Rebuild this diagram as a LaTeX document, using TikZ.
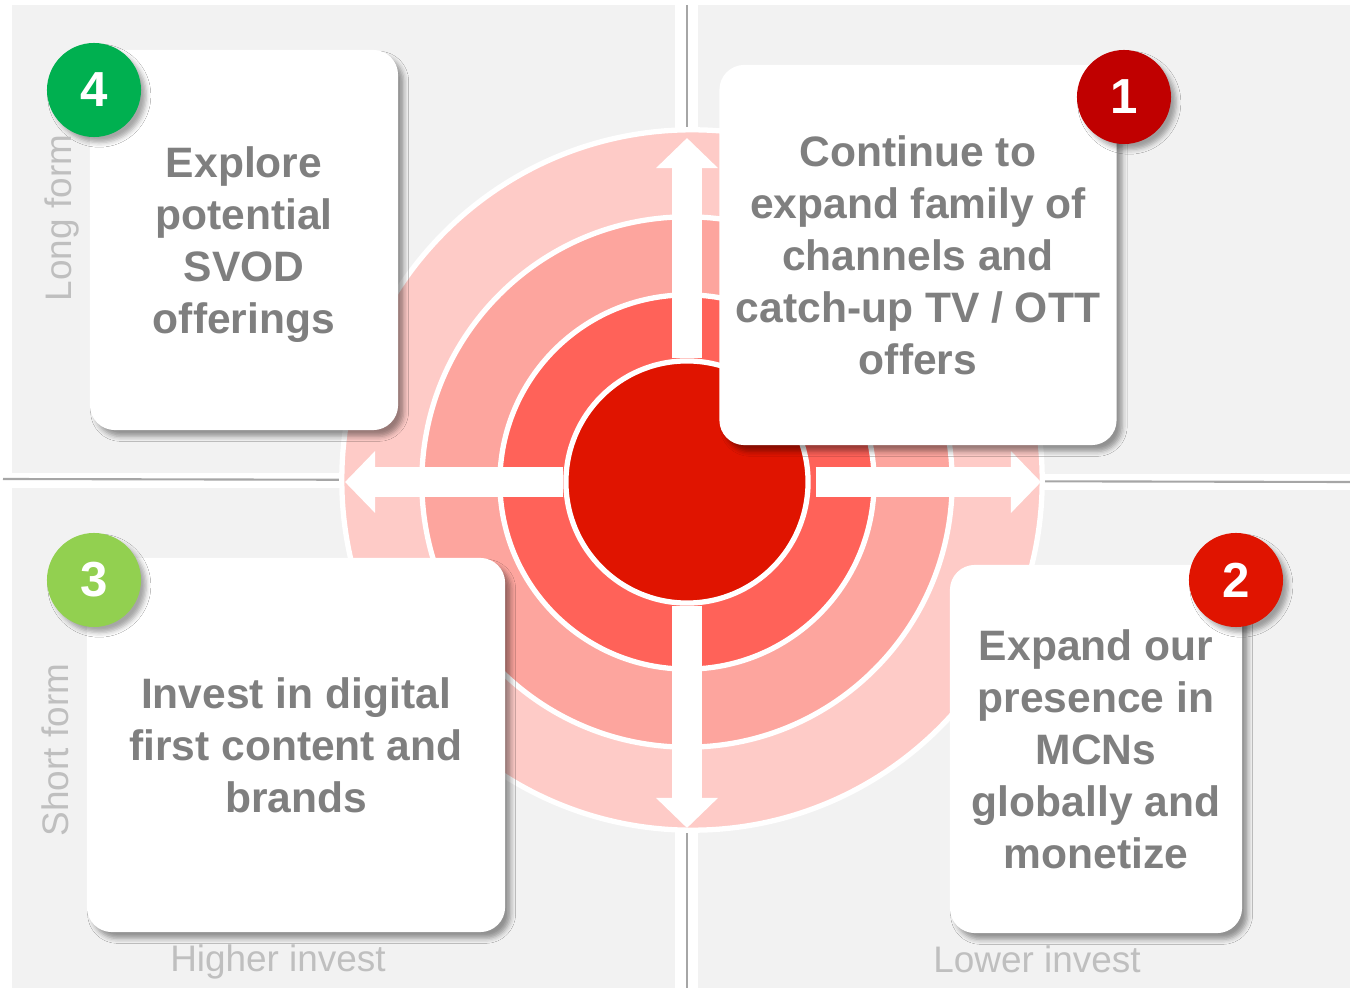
\documentclass[tikz,border=0pt]{standalone}
\usepackage{fontspec}
\setmainfont{Liberation Sans}
\usetikzlibrary{arrows.meta,shadows.blur}
\definecolor{bggrey}{HTML}{F2F2F2}
\definecolor{sepgrey}{HTML}{A6A6A6}
\definecolor{txtgrey}{HTML}{7F7F7F}
\definecolor{axgrey}{HTML}{BFBFBF}
\definecolor{ringA}{HTML}{FECBC7}
\definecolor{ringB}{HTML}{FDA59E}
\definecolor{ringC}{HTML}{FF6259}
\definecolor{bullred}{HTML}{E01400}
\definecolor{darkred}{HTML}{C00000}
\definecolor{green}{HTML}{00B050}
\definecolor{lightgreen}{HTML}{92D050}

\begin{document}
\begin{tikzpicture}[x=0.01cm, y=-0.01cm,
  quad/.style={fill=bggrey},
  ring/.style={circle, draw=white, line width=1.5pt, inner sep=0pt},
  fat/.style={white, line width=3mm, -{Triangle[width=6mm, length=3mm]}},
  card/.style={fill=white, rounded corners=2.5mm, inner sep=0pt, align=center,
    text=txtgrey, text depth=0pt, font=\bfseries\fontsize{12.1}{14.8}\selectfont,
    blur shadow={shadow xshift=1.6pt, shadow yshift=-1.8pt, shadow blur radius=1.4pt, shadow opacity=40}},
  badge/.style={circle, minimum size=9.4mm, inner sep=0pt, text=white,
    font=\bfseries\fontsize{14}{14}\selectfont,
    blur shadow={shadow xshift=1.5pt, shadow yshift=-1.6pt, shadow blur radius=1.3pt, shadow opacity=35}},
  axis/.style={text=axgrey, inner sep=0pt, font=\fontsize{10.5}{12}\selectfont}]
\useasboundingbox (0,0) rectangle (1350,988);

% quadrants
\fill[quad] (12,5) rectangle (675,473);
\fill[quad] (698,5) rectangle (1350,474);
\fill[quad] (12,488) rectangle (675,988);
\fill[quad] (698,490) rectangle (1350,988);
\draw[sepgrey, line width=0.6pt] (687,5) -- (687,988);
\draw[sepgrey, line width=0.6pt] (3,479) -- (1350,482);

% target
\node[ring, fill=ringA, minimum size=7.0cm] (ring_1) at (692,480) {};
\node[ring, fill=ringB, minimum size=5.3cm] (ring_2) at (687,482) {};
\node[ring, fill=ringC, minimum size=3.74cm] (ring_3) at (687,482) {};
\node[ring, fill=bullred, minimum size=2.42cm] (core) at (687,482) {};

\coordinate (tip_n) at (687,138);
\coordinate (tip_e) at (1041,482);
\coordinate (tip_s) at (687,828);
\coordinate (tip_w) at (345,482);
\draw[fat] (core.north) -- (tip_n);
\draw[fat] ([xshift=0.5mm]core.east) -- (tip_e);
\draw[fat] (core.south) -- (tip_s);
\draw[fat] (core.west) -- (tip_w);

% cards
\node[card, minimum width=3.08cm, minimum height=3.80cm] (b_4) at (244,240)
  {Explore\\ potential\\ SVOD\\ offerings};
\node[card, minimum width=3.97cm, minimum height=3.80cm] (b_1) at (918,255)
  {Continue to\\ expand family of\\ channels and\\ catch-up TV / OTT\\ offers};
\node[card, minimum width=4.18cm, minimum height=3.74cm] (b_3) at (296,745)
  {Invest in digital\\ first content and\\ brands};
\node[card, minimum width=2.92cm, minimum height=3.68cm] (b_2) at (1096,749)
  {Expand our\\ presence in\\ MCNs\\ globally and\\ monetize};

% badges
\node[badge, fill=green] (n_4) at (94,90) {4};
\node[badge, fill=darkred] (n_1) at (1124,97) {1};
\node[badge, fill=lightgreen] (n_3) at (94,580) {3};
\node[badge, fill=bullred] (n_2) at (1236,580) {2};

% axis labels
\node[axis, rotate=90] (long) at (62,218) {Long form};
\node[axis, rotate=90] (short) at (55,750) {Short form};
\node[axis] (high) at (278,962) {Higher invest};
\node[axis] (low) at (1037,959) {Lower invest};
\end{tikzpicture}
\end{document}
